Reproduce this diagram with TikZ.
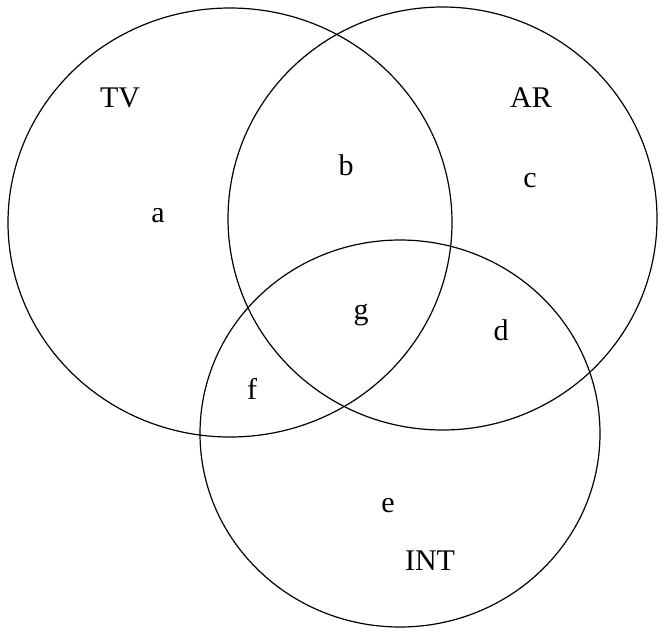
\documentclass[tikz,border=0pt]{standalone}
\usepackage{fontspec}
\setmainfont{Liberation Serif}
\begin{document}
\begin{tikzpicture}[x=1pt,y=-1pt,
  setline/.style={draw=black,line width=1.2pt},
  lbl/.style={anchor=base,inner sep=0pt,font=\fontsize{30}{30}\selectfont}]
\useasboundingbox (0,0) rectangle (659,630);
\draw[setline] (230,222.5) ellipse [x radius=222, y radius=214.5];
\draw[setline] (442.5,218.5) ellipse [x radius=214.5, y radius=211.5];
\draw[setline] (400,433.5) ellipse [x radius=200, y radius=193.5];
\node[lbl] (tv) at (120,107) {TV};
\node[lbl] (ar) at (531,107) {AR};
\node[lbl] (int) at (430,570) {INT};
\node[lbl] (a) at (158,222) {a};
\node[lbl] (b) at (346,175) {b};
\node[lbl] (c) at (530,187) {c};
\node[lbl] (d) at (501,340) {d};
\node[lbl] (e) at (388,512) {e};
\node[lbl] (f) at (252,399) {f};
\node[lbl] (g) at (361,319) {g};
\end{tikzpicture}
\end{document}
